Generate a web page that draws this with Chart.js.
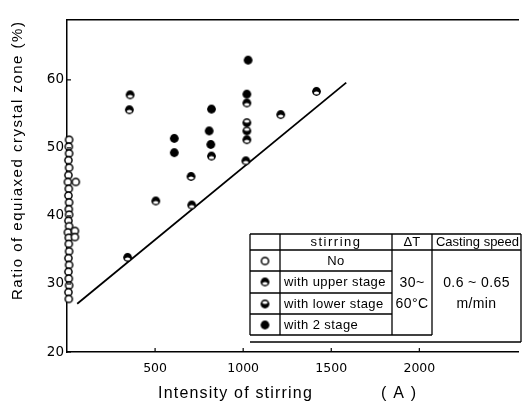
<!DOCTYPE html>
<html>
  <head>
    <script src="https://cdn.jsdelivr.net/npm/chart.js"></script>
    <style>
      html, body { margin: 0; padding: 0; background: #fff; }
      #wrap { width: 523px; height: 405px; }
    </style>
  </head>
  <body>
    <div id="wrap"><canvas id="chart" width="523" height="405"></canvas></div>

    <script>
      // values: x = intensity of stirring (A), y = ratio (%)
      const noStirring = [
        [12, 51.2], [10, 50.2], [12, 49.2], [8, 48.2], [12, 47.1], [8, 46.0],
        [5, 45.0], [50, 45.0], [10, 44.0], [8, 43.0], [12, 42.0], [10, 41.0],
        [12, 40.2], [8, 39.3], [12, 38.5], [5, 37.6], [45, 37.8], [10, 36.8],
        [45, 36.9], [10, 35.9], [12, 34.8], [8, 33.8], [12, 32.8], [8, 31.8],
        [10, 30.8], [12, 29.8], [8, 28.8], [10, 27.8]
      ];
      const upperStage = [
        [358, 57.8], [354, 55.6], [1021, 56.6], [1021, 51.2], [820, 48.8],
        [1015, 48.1], [1416, 58.3], [1213, 54.9], [704, 45.8], [504, 42.2],
        [708, 41.6], [344, 33.9]
      ];
      const lowerStage = [
        [1021, 53.7], [1021, 52.5]
      ];
      const twoStage = [
        [1028, 62.9], [1021, 57.9], [820, 55.7], [609, 51.4], [807, 52.5],
        [609, 49.3], [816, 50.5]
      ];
      const boundaryLine = [[58, 27.1], [1585, 59.6]];

      const xTicks = [500, 1000, 1500, 2000];
      const yTicks = [20, 30, 40, 50, 60];

      const legendRows = ['No', 'with upper stage', 'with lower stage', 'with 2 stage'];

      const toPts = arr => arr.map(p => ({ x: p[0], y: p[1] }));

      // marker images
      function marker(kind) {
        const c = document.createElement('canvas');
        c.width = 11; c.height = 11;
        const g = c.getContext('2d');
        g.beginPath();
        if (kind === 'open') {
          g.arc(5.5, 5.5, 3.6, 0, Math.PI * 2);
          g.fillStyle = '#fff'; g.fill();
          g.lineWidth = 1.5; g.strokeStyle = '#000'; g.stroke();
        } else {
          g.arc(5.5, 5.5, 4.4, 0, Math.PI * 2);
          g.fillStyle = '#000'; g.fill();
          if (kind !== 'full') {
            g.beginPath();
            const cy = kind === 'upper' ? 7 : 4;
            g.ellipse(5.5, cy, 2.6, 1.5, 0, 0, Math.PI * 2);
            g.fillStyle = '#fff'; g.fill();
          }
        }
        return c;
      }
      const mOpen = marker('open');
      const mUpper = marker('upper');
      const mLower = marker('lower');
      const mFull = marker('full');
      const legendMarks = [mOpen, mUpper, mLower, mFull];

      const extras = {
        id: 'extras',
        afterDraw(chart) {
          const ctx = chart.ctx;
          const xs = chart.scales.x, ys = chart.scales.y;
          const a = chart.chartArea;
          ctx.save();
          ctx.strokeStyle = '#000';
          ctx.lineWidth = 1.2;
          // inward tick marks
          xTicks.forEach(v => {
            const px = xs.getPixelForValue(v);
            ctx.beginPath(); ctx.moveTo(px, a.bottom); ctx.lineTo(px, a.bottom - 4); ctx.stroke();
          });
          yTicks.forEach(v => {
            const py = ys.getPixelForValue(v);
            ctx.beginPath(); ctx.moveTo(a.left, py); ctx.lineTo(a.left + 4, py); ctx.stroke();
          });

          // axis titles
          ctx.fillStyle = '#000';
          ctx.font = '16px "Liberation Sans", Arial, sans-serif';
          ctx.letterSpacing = '1.2px';
          ctx.textBaseline = 'middle';
          ctx.textAlign = 'left';
          ctx.fillText('Intensity of stirring', 158, 394);
          ctx.fillText('( A )', 381, 394);
          ctx.save();
          ctx.translate(18, 300);
          ctx.rotate(-Math.PI / 2);
          ctx.font = '15px "Liberation Sans", Arial, sans-serif';
          ctx.letterSpacing = '1.5px';
          ctx.fillText('Ratio of equiaxed crystal zone (%)', 0, 0);
          ctx.restore();

          // legend table
          const L = 250, C1 = 280, C2 = 392, C3 = 432, R = 521;
          const rows = [234, 250, 271, 293, 314, 335];
          ctx.fillStyle = '#fff';
          ctx.fillRect(L, rows[0], R - L, 342 - rows[0]);
          ctx.lineWidth = 1.3;
          const line = (x1, y1, x2, y2) => {
            ctx.beginPath(); ctx.moveTo(x1, y1); ctx.lineTo(x2, y2); ctx.stroke();
          };
          line(L, rows[0], R, rows[0]);
          line(L, rows[1], R, rows[1]);
          for (let i = 2; i < 5; i++) line(L, rows[i], C2, rows[i]);
          line(L, rows[5], C3, rows[5]);
          line(L, 342, R, 342);
          [L, C1, C2, C3].forEach(x => line(x, rows[0], x, rows[5]));
          line(R, rows[0], R, 342);

          ctx.fillStyle = '#000';
          ctx.font = '13px "Liberation Sans", Arial, sans-serif';
          ctx.textAlign = 'center';
          ctx.letterSpacing = '1.5px';
          ctx.fillText('stirring', (C1 + C2) / 2, 242);
          ctx.letterSpacing = '0.3px';
          ctx.fillText('\u0394T', (C2 + C3) / 2, 242);
          ctx.letterSpacing = '0px';
          ctx.fillText('Casting speed', (C3 + R) / 2 + 1, 242);
          ctx.letterSpacing = '0.4px';
          ctx.fillText('No', (C1 + C2) / 2, 261);
          ctx.textAlign = 'left';
          const rowY = [261, 282, 304, 325];
          legendRows.forEach((t, i) => {
            if (i > 0) ctx.fillText(t, C1 + 4, rowY[i]);
            ctx.drawImage(legendMarks[i], (L + C1) / 2 - 5.5, rowY[i] - 5.5);
          });
          ctx.font = '14px "Liberation Sans", Arial, sans-serif';
          ctx.textAlign = 'center';
          ctx.fillText('30~', (C2 + C3) / 2, 283);
          ctx.fillText('60\u00b0C', (C2 + C3) / 2, 304);
          ctx.fillText('0.6 ~ 0.65', (C3 + R) / 2, 283);
          ctx.fillText('m/min', (C3 + R) / 2, 304);
          ctx.restore();
        }
      };

      const ctx = document.getElementById('chart').getContext('2d');
      new Chart(ctx, {
        type: 'scatter',
        data: {
          datasets: [
            { label: 'with 2 stage', data: toPts(twoStage), pointStyle: mFull, clip: false },
            { label: 'with lower stage', data: toPts(lowerStage), pointStyle: mLower, clip: false },
            { label: 'with upper stage', data: toPts(upperStage), pointStyle: mUpper, clip: false },
            { label: 'No', data: toPts(noStirring), pointStyle: mOpen, clip: false },
            {
              type: 'line', label: 'boundary', data: toPts(boundaryLine),
              borderColor: '#000', borderWidth: 1.8, pointRadius: 0, fill: false
            }
          ]
        },
        options: {
          responsive: false,
          animation: false,
          events: [],
          layout: { padding: { left: 0, right: 1, top: 0, bottom: 0 } },
          plugins: { legend: { display: false }, tooltip: { enabled: false } },
          scales: {
            x: {
              type: 'linear', position: 'bottom', min: 0, max: 2560,
              afterFit: s => { s.height = 53; },
              afterBuildTicks: s => { s.ticks = xTicks.map(v => ({ value: v })); },
              grid: { display: false, drawTicks: false },
              border: { display: true, color: '#000', width: 1.5 },
              ticks: {
                padding: 9, color: '#000',
                callback: v => String(v),
                font: { family: '"DejaVu Sans", sans-serif', size: 12.5 }
              }
            },
            x2: {
              type: 'linear', position: 'top', min: 0, max: 2560,
              afterFit: s => { s.height = 20; },
              grid: { display: false, drawTicks: false },
              border: { display: true, color: '#000', width: 1.5 },
              ticks: { display: false }
            },
            y: {
              type: 'linear', min: 20, max: 68.8,
              afterFit: s => { s.width = 67; },
              afterBuildTicks: s => { s.ticks = yTicks.map(v => ({ value: v })); },
              grid: { display: false, drawTicks: false },
              border: { display: true, color: '#000', width: 1.5 },
              ticks: {
                padding: 3, color: '#000',
                callback: v => String(v),
                font: { family: '"DejaVu Sans", sans-serif', size: 13.5 }
              }
            }
          }
        },
        plugins: [extras]
      });
    </script>
  </body>
</html>
